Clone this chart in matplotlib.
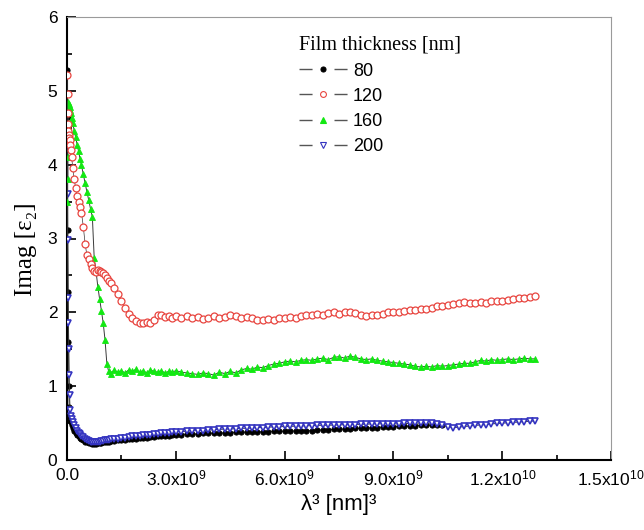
import matplotlib
matplotlib.use("Agg")
import matplotlib.pyplot as plt
from matplotlib.lines import Line2D
from matplotlib.ticker import MultipleLocator, FixedLocator

plt.rcParams['font.family'] = ['Liberation Sans', 'DejaVu Sans']
plt.rcParams['mathtext.fontset'] = 'custom'
plt.rcParams['mathtext.rm'] = 'Liberation Sans'
plt.rcParams['mathtext.it'] = 'Liberation Sans:italic'

# x values: lambda^3 in units of 1e9 nm^3
x_e9 = [0.01, 0.015, 0.02, 0.03, 0.04, 0.05, 0.06, 0.07, 0.085, 0.1,
        0.13, 0.16, 0.2, 0.24, 0.28, 0.32, 0.36, 0.4, 0.45, 0.5, 0.55, 0.6, 0.65, 0.7,
        0.75, 0.8, 0.85, 0.9, 0.95, 1.0, 1.05, 1.1, 1.15, 1.2,
        1.3, 1.4, 1.5, 1.6, 1.7, 1.8, 1.9, 2.0, 2.1, 2.2, 2.3, 2.4, 2.5, 2.6, 2.7, 2.8, 2.9, 3.0,
        3.15, 3.3, 3.45, 3.6, 3.75, 3.9, 4.05, 4.2, 4.35, 4.5, 4.65, 4.8, 4.95, 5.1, 5.25, 5.4,
        5.55, 5.7, 5.85, 6.0,
        6.15, 6.3, 6.45, 6.6, 6.75, 6.9, 7.05, 7.2, 7.35, 7.5, 7.65, 7.8, 7.95, 8.1, 8.25, 8.4,
        8.55, 8.7, 8.85, 9.0,
        9.15, 9.3, 9.45, 9.6, 9.75, 9.9, 10.05, 10.2, 10.35, 10.5, 10.65, 10.8, 10.95, 11.1,
        11.25, 11.4, 11.55, 11.7, 11.85, 12.0,
        12.15, 12.3, 12.45, 12.6, 12.75, 12.9]

y_120 = [5.22, 4.95, 4.70, 4.55, 4.45, 4.40, 4.36, 4.33, 4.27, 4.20,
         4.10, 3.95, 3.80, 3.68, 3.57, 3.49, 3.42, 3.35, 3.16, 2.93, 2.77, 2.72, 2.66, 2.60,
         2.56, 2.54, 2.57, 2.56, 2.54, 2.53, 2.50, 2.46, 2.43, 2.40,
         2.33, 2.25, 2.15, 2.06, 1.98, 1.92, 1.88, 1.86, 1.85, 1.87, 1.86, 1.90, 1.96, 1.97, 1.94, 1.95, 1.93, 1.95,
         1.93, 1.95, 1.92, 1.94, 1.91, 1.93, 1.95, 1.92, 1.94, 1.97, 1.95, 1.93, 1.94, 1.92, 1.90, 1.89,
         1.91, 1.90, 1.92, 1.93,
         1.94, 1.93, 1.95, 1.97, 1.96, 1.98, 1.97, 1.99, 2.00, 1.98, 2.00, 2.01, 1.99, 1.97, 1.95, 1.97,
         1.96, 1.98, 2.00, 2.00,
         2.01, 2.02, 2.03, 2.03, 2.04, 2.05, 2.06, 2.08, 2.09, 2.10, 2.11, 2.12, 2.14, 2.13,
         2.12, 2.14, 2.13, 2.15, 2.15, 2.16,
         2.17, 2.18, 2.19, 2.20, 2.21, 2.22]

y_160 = [3.50, 4.10, 3.80, 4.50, 4.85, 4.82, 4.80, 4.78, 4.74, 4.70,
         4.63, 4.56, 4.46, 4.37, 4.27, 4.18, 4.08, 3.99, 3.87, 3.75, 3.63, 3.52, 3.40, 3.29,
         2.74, 2.56, 2.35, 2.18, 2.02, 1.85, 1.62, 1.30, 1.20, 1.17,
         1.22, 1.19, 1.21, 1.18, 1.22, 1.20, 1.23, 1.19, 1.21, 1.18, 1.22, 1.20, 1.19, 1.21, 1.18, 1.20, 1.19, 1.21,
         1.19, 1.18, 1.17, 1.16, 1.18, 1.17, 1.15, 1.19, 1.17, 1.20, 1.18, 1.22, 1.24, 1.23, 1.26, 1.25,
         1.28, 1.30, 1.31, 1.33,
         1.34, 1.33, 1.35, 1.36, 1.35, 1.37, 1.38, 1.36, 1.39, 1.40, 1.38, 1.41, 1.39, 1.37, 1.36, 1.37,
         1.35, 1.34, 1.33, 1.32,
         1.31, 1.30, 1.29, 1.27, 1.26, 1.27, 1.26, 1.28, 1.27, 1.28, 1.29, 1.30, 1.31, 1.31,
         1.33, 1.35, 1.34, 1.36, 1.35, 1.36,
         1.37, 1.36, 1.37, 1.38, 1.37, 1.37]

y_200 = [4.25, 3.60, 2.98, 2.20, 1.85, 1.50, 1.15, 0.88, 0.68, 0.60,
         0.56, 0.52, 0.47, 0.43, 0.40, 0.37, 0.35, 0.33, 0.31, 0.29, 0.27, 0.26, 0.25, 0.245,
         0.24, 0.24, 0.245, 0.25, 0.255, 0.26, 0.265, 0.27, 0.275, 0.28,
         0.285, 0.29, 0.30, 0.305, 0.31, 0.32, 0.325, 0.33, 0.335, 0.34, 0.345, 0.35, 0.355, 0.36, 0.365, 0.37, 0.375, 0.38,
         0.385, 0.39, 0.395, 0.40, 0.40, 0.405, 0.41, 0.415, 0.42, 0.42, 0.425, 0.43, 0.43, 0.435, 0.44, 0.44,
         0.445, 0.45, 0.45, 0.455,
         0.455, 0.46, 0.46, 0.465, 0.465, 0.47, 0.47, 0.47, 0.475, 0.475, 0.48, 0.48, 0.48, 0.485, 0.485, 0.49,
         0.49, 0.49, 0.49, 0.49,
         0.49, 0.495, 0.495, 0.50, 0.50, 0.50, 0.50, 0.49, 0.47, 0.45, 0.44, 0.445, 0.455, 0.46,
         0.47, 0.475, 0.48, 0.49, 0.495, 0.50,
         0.505, 0.51, 0.515, 0.52, 0.525, 0.53]

y_80 = [5.28, 4.65, 3.12, 2.28, 1.60, 1.00, 0.72, 0.60, 0.54, 0.51,
        0.47, 0.44, 0.40, 0.37, 0.34, 0.32, 0.30, 0.28, 0.265, 0.25, 0.24, 0.23, 0.225, 0.22,
        0.22, 0.22, 0.225, 0.23, 0.235, 0.24, 0.245, 0.25, 0.25, 0.255,
        0.26, 0.265, 0.27, 0.275, 0.28, 0.285, 0.29, 0.295, 0.30, 0.305, 0.31, 0.315, 0.32, 0.325, 0.33, 0.33, 0.335, 0.34,
        0.345, 0.35, 0.35, 0.355, 0.36, 0.36, 0.365, 0.365, 0.37, 0.37, 0.375, 0.375, 0.38, 0.38, 0.38, 0.385,
        0.385, 0.39, 0.39, 0.39,
        0.395, 0.395, 0.40, 0.40, 0.40, 0.405, 0.41, 0.41, 0.415, 0.42, 0.42, 0.425, 0.43, 0.43, 0.435, 0.44,
        0.44, 0.445, 0.45, 0.45,
        0.455, 0.46, 0.46, 0.465, 0.47, 0.47, 0.475, 0.475, 0.48]

labels = ['80', '120', '160', '200']
x_ticks_e9 = [0, 3, 6, 9, 12, 15]
x_tick_labels = ['0.0', r'3.0x10$^{9}$', r'6.0x10$^{9}$', r'9.0x10$^{9}$',
                 r'1.2x10$^{10}$', r'1.5x10$^{10}$']

x = [v * 1e9 for v in x_e9]

fig = plt.figure(figsize=(6.44, 5.30), dpi=100)
ax = fig.add_axes([0.104, 0.132, 0.845, 0.836])

line_col = '#3a3a3a'
red = '#e8453f'
green = '#12e812'
blue = '#3434c0'

ax.plot(x[:len(y_80)], y_80, '-', color=line_col, lw=0.7, marker='o', ms=3.8,
        mfc='black', mec='black', mew=0.6, zorder=2)
ax.plot(x, y_200, '-', color=line_col, lw=0.7, marker='v', ms=4.8,
        mfc='white', mec=blue, mew=1.2, zorder=3)
ax.plot(x, y_160, '-', color=line_col, lw=0.7, marker='^', ms=4.8,
        mfc=green, mec=green, mew=0.6, zorder=4)
ax.plot(x, y_120, '-', color=line_col, lw=0.5, marker='o', ms=5.0,
        mfc='white', mec=red, mew=0.9, zorder=5)

ax.set_xlim(0, 1.5e10)
ax.set_ylim(0, 6)
ax.xaxis.set_major_locator(FixedLocator([v * 1e9 for v in x_ticks_e9]))
ax.set_xticklabels(x_tick_labels)
ax.xaxis.set_minor_locator(MultipleLocator(1.5e9))
ax.yaxis.set_major_locator(MultipleLocator(1))
ax.yaxis.set_minor_locator(MultipleLocator(0.5))

ax.tick_params(which='both', direction='in', top=False, right=False, labelsize=12.5, width=1.2)
ax.tick_params(which='major', length=6.5)
ax.tick_params(which='minor', length=3.5)
ax.tick_params(axis='x', pad=6)
ax.tick_params(axis='y', pad=7)

for s in ['left', 'bottom']:
    ax.spines[s].set_linewidth(1.5)
    ax.spines[s].set_color('black')
for s in ['top', 'right']:
    ax.spines[s].set_linewidth(0.8)
    ax.spines[s].set_color('#9a9a9a')

ax.set_xlabel('λ³ [nm]³', fontsize=16, labelpad=4)
ax.set_ylabel('Imag [ε₂]', fontsize=18, family=['Liberation Serif', 'DejaVu Serif'])
ax.yaxis.set_label_coords(-0.056, 0.475)

handles = []
for mk, mfc, mec, ms in [('o', 'black', 'black', 3.6), ('o', 'white', red, 4.2),
                         ('^', green, green, 4.6), ('v', 'white', blue, 4.6)]:
    handles.append(Line2D([], [], color='#555555', lw=1.0, linestyle=(0, (9.4, 15.8, 9.4, 100)),
                          marker=mk, mfc=mfc, mec=mec, ms=ms, mew=0.8))
leg = ax.legend(handles, labels, loc='upper left', bbox_to_anchor=(0.426, 0.958),
                frameon=False, fontsize=13, handlelength=2.7, handletextpad=0.3,
                labelspacing=0.45, borderpad=0, borderaxespad=0, numpoints=1,
                title='Film thickness [nm]', alignment='left',
                title_fontproperties={'family': ['Liberation Serif'], 'size': 14.5})

fig.savefig('out.png', dpi=100)
